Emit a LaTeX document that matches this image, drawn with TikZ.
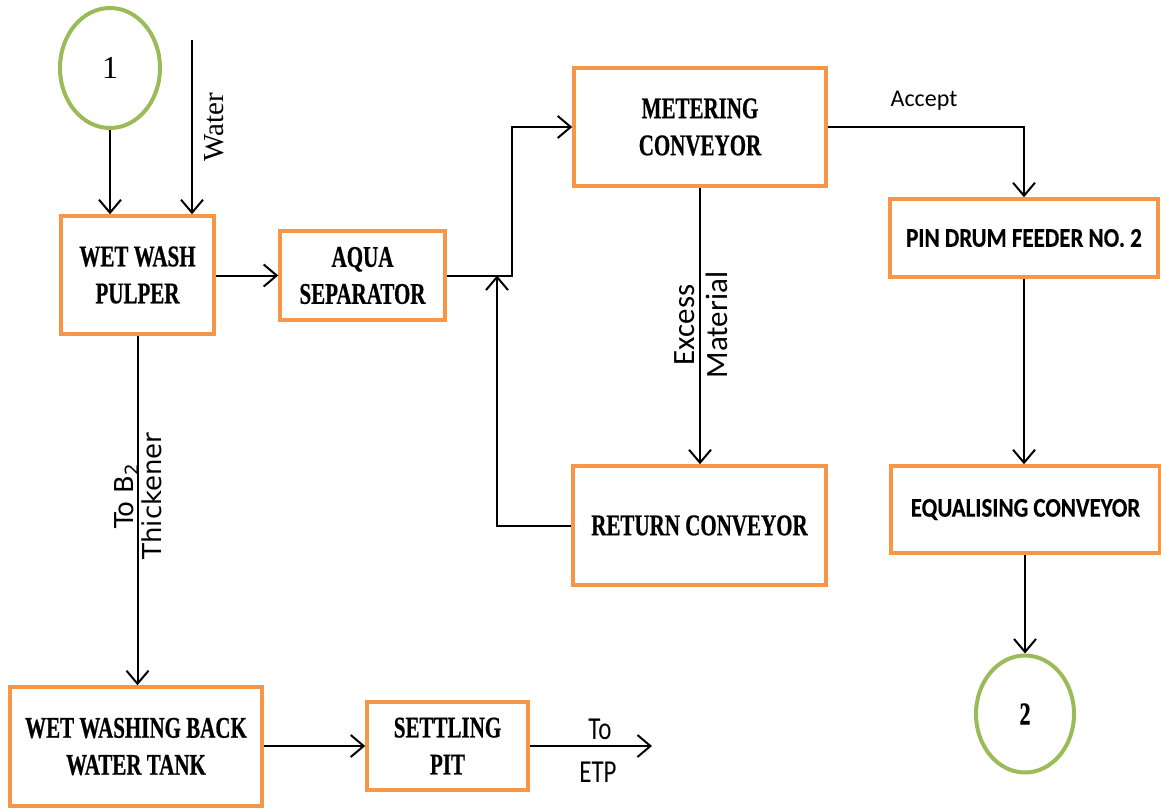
\documentclass[tikz,border=0pt]{standalone}
\usepackage{fontspec}
\setmainfont{Liberation Serif}
\newfontfamily\boxfont{Liberation Serif}[FakeStretch=0.7,FakeBold=0.6]
\newfontfamily\calfont{Carlito}
\newfontfamily\calcond{Carlito}[FakeStretch=0.85,FakeBold=0.3]
\newfontfamily\etpfont{Carlito}[FakeStretch=0.78]
\newfontfamily\dvsans{DejaVu Sans}
\usetikzlibrary{arrows.meta,shapes.geometric}
\definecolor{boxorange}{HTML}{F79646}
\definecolor{circgreen}{HTML}{9BBB59}
\tikzset{
  proc/.style={draw=boxorange, line width=3.5pt, fill=white, align=center, inner sep=0pt,
    font=\boxfont\bfseries\fontsize{30}{37}\selectfont},
  proccal/.style={draw=boxorange, line width=3.5pt, fill=white, align=center, inner sep=0pt,
    font=\calcond\bfseries\fontsize{27}{32}\selectfont},
  term/.style={draw=circgreen, line width=4pt, ellipse, inner sep=0pt, fill=white},
  flow/.style={line width=2pt, -{Straight Barb[length=13pt,width=22pt,line width=2pt]}},
  lbl/.style={inner sep=0pt, align=center}
}
\begin{document}
\begin{tikzpicture}[x=1pt,y=-1pt]
\useasboundingbox[fill=white] (0,0) rectangle (1161,808);
% terminals
\node[term, minimum width=100pt, minimum height=120pt, font=\fontsize{32}{36}\selectfont] (c1) at (110,68) {1};
\node[term, minimum width=98pt, minimum height=117pt, font=\boxfont\bfseries\fontsize{32}{36}\selectfont] (c2) at (1025,714) {2};
% process boxes
\node[proc, minimum width=153pt, minimum height=118pt] (pulper) at (137.5,275) {WET WASH\\PULPER};
\node[proc, minimum width=165pt, minimum height=89pt] (aqua) at (362.5,275.5) {AQUA\\SEPARATOR};
\node[proc, minimum width=252pt, minimum height=118pt] (meter) at (700,127) {METERING\\CONVEYOR};
\node[proccal, minimum width=268pt, minimum height=78pt] (pin) at (1024,238) {PIN DRUM FEEDER NO. 2};
\node[proccal, minimum width=269pt, minimum height=87pt] (equal) at (1025.5,509.5) {EQUALISING CONVEYOR};
\node[proc, minimum width=253pt, minimum height=119pt] (ret) at (699.5,525.5) {RETURN CONVEYOR};
\node[proc, minimum width=252pt, minimum height=119pt] (tank) at (136,746.5) {WET WASHING BACK\\WATER TANK};
\node[proc, minimum width=161pt, minimum height=88pt] (pit) at (447.5,746) {SETTLING\\PIT};
% free ends / junctions
\coordinate (wtop) at (192,40);
\coordinate (jn) at (497,275.5);
\coordinate (etp) at (652,746);
% connectors
\draw[flow] (c1.south) -- (c1.south |- pulper.north);
\draw[flow] (wtop) -- (wtop |- pulper.north);
\draw[flow] (pulper.east |- aqua.west) -- (aqua.west);
\draw[flow] (aqua.east) -- ++(65,0) |- (meter.west);
\draw[flow] (ret.west) -| (jn);
\draw[flow] (meter.east) -| (pin.north);
\draw[flow] (pin.south) -- (pin.south |- equal.north);
\draw[flow] (c2.north |- equal.south) -- (c2.north);
\draw[flow] (meter.south) -- (meter.south |- ret.north);
\draw[flow] (pulper.south) -- (pulper.south |- tank.north);
\draw[flow] (tank.east |- pit.west) -- (pit.west);
\draw[flow] (pit.east) -- (etp);
% labels
\node[lbl, rotate=90, font=\fontsize{29}{32}\selectfont] (lwater) at (214,127) {Water};
\node[lbl, rotate=90, font=\dvsans\fontsize{26}{28}\selectfont] (lthick) at (138,496) {To B\textsubscript{2}\\Thickener};
\node[lbl, rotate=90, font=\calfont\fontsize{31}{33}\selectfont] (lexcess) at (701,325) {Excess\\Material};
\node[lbl, font=\calfont\fontsize{24}{28}\selectfont] (laccept) at (924,101) {Accept};
\node[lbl, font=\etpfont\fontsize{32}{34}\selectfont] (lto) at (600,729) {To};
\node[lbl, font=\etpfont\fontsize{32}{34}\selectfont] (letp) at (598,772) {ETP};
\end{tikzpicture}
\end{document}
